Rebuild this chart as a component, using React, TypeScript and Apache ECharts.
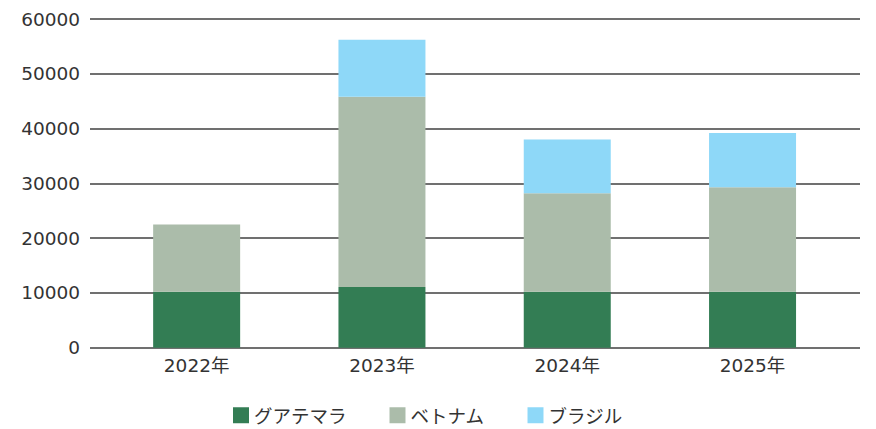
import React, { useEffect, useRef } from "react";
import * as echarts from "echarts";

const categories = ["2022年", "2023年", "2024年", "2025年"];
const guatemala = [10200, 11100, 10200, 10200];
const vietnam = [12300, 34700, 18000, 19100];
const brazil = [null, 10400, 9800, 9900];
const seriesNames = ["グアテマラ", "ベトナム", "ブラジル"];
const colors = ["#337d54", "#abbcaa", "#8ed8f8"];
const yMin = 0;
const yMax = 60000;
const yInterval = 10000;

const AXIS_FONT = "'DejaVu Sans', 'Noto Sans CJK JP', sans-serif";
const LEGEND_FONT = "'Noto Sans CJK JP', sans-serif";

export default function App() {
  const ref = useRef<HTMLDivElement>(null);
  useEffect(() => {
    if (!ref.current) return;
    const chart = echarts.init(ref.current, null, { renderer: "svg" });
    const top = 19;
    const bottom = 81.3;
    chart.setOption({
      animation: false,
      backgroundColor: "#ffffff",
      textStyle: { fontFamily: AXIS_FONT },
      legend: {
        left: 233,
        top: 406,
        padding: 0,
        itemWidth: 16,
        itemHeight: 16,
        itemGap: 43,
        icon: "rect",
        textStyle: {
          fontSize: 18.5,
          color: "#333333",
          fontFamily: LEGEND_FONT,
        },
        data: seriesNames,
      },
      grid: [
        { left: 90, right: 16, top, bottom },
        { left: 104, right: 30.8, top, bottom },
      ],
      xAxis: [
        { type: "category", gridIndex: 0, data: ["_"], show: false },
        {
          type: "category",
          gridIndex: 1,
          data: categories,
          axisLine: { show: false },
          axisTick: { show: false },
          axisLabel: { fontSize: 18.5, color: "#333333", margin: 9, fontFamily: AXIS_FONT },
        },
      ],
      yAxis: [
        {
          type: "value",
          gridIndex: 0,
          min: yMin,
          max: yMax,
          interval: yInterval,
          axisLine: { show: false },
          axisTick: { show: false },
          axisLabel: {
            fontSize: 18.5,
            color: "#333333",
            margin: 10,
            fontFamily: AXIS_FONT,
            formatter: (v: number) => String(v),
          },
          splitLine: { lineStyle: { color: "#404040", width: 1.5 } },
        },
        {
          type: "value",
          gridIndex: 1,
          min: yMin,
          max: yMax,
          interval: yInterval,
          show: false,
          splitLine: { show: false },
        },
      ],
      series: [
        { name: seriesNames[0], data: guatemala },
        { name: seriesNames[1], data: vietnam },
        { name: seriesNames[2], data: brazil },
      ].map((s, i) => ({
        type: "bar",
        name: s.name,
        data: s.data,
        stack: "total",
        xAxisIndex: 1,
        yAxisIndex: 1,
        barWidth: 87,
        itemStyle: { color: colors[i] },
        z: 3,
      })),
    });
    return () => chart.dispose();
  }, []);
  return (
    <div
      ref={ref}
      style={{ position: "fixed", left: 0, top: 0, width: 876, height: 429 }}
    />
  );
}
